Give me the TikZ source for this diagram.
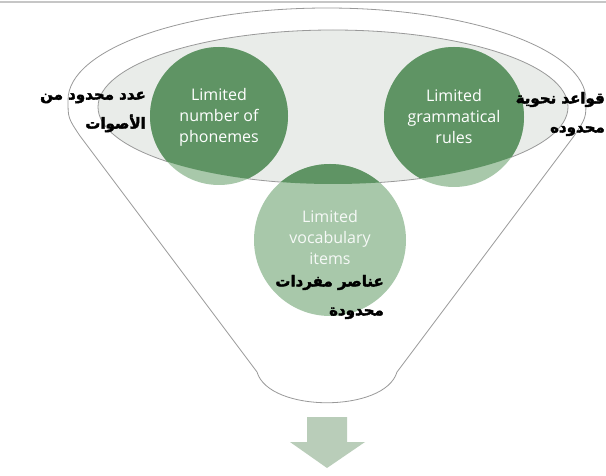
\documentclass[tikz,border=0pt]{standalone}
\usepackage{fontspec}
\setmainfont{Open Sans}
\newfontfamily\arabicfont[Script=Arabic, FakeBold=2.5]{DejaVu Sans Bold}
\TeXXeTstate=1
\usetikzlibrary{calc}
\definecolor{leafdark}{HTML}{5F9464}
\definecolor{leaflight}{HTML}{A8C8AA}
\definecolor{rimgray}{HTML}{E9ECE9}
\definecolor{arrowgreen}{HTML}{B9CDB9}
\tikzstyle{bubble}=[circle, inner sep=0pt, align=center, text=white, font=\fontsize{16}{21}\selectfont]
\tikzstyle{arlabel}=[align=right, anchor=east, inner sep=0pt, font=\arabicfont\fontsize{15}{29}\selectfont]
\tikzstyle{rim}=[draw=gray!80, line width=0.8pt]
\newcommand{\drawfunnel}[0]
{
  \draw[rim, fill=white] (68,100) arc[start angle=180, end angle=360, x radius=259, y radius=92]
    .. controls (586,118) .. (574,136) -- (397,372)
    .. controls (385,413) and (269,413) .. (257,372) -- (80,136)
    .. controls (68,118) .. cycle;
  \draw[rim, fill=rimgray] (333,107) ellipse[x radius=235, y radius=77];
}

\begin{document}
\begin{tikzpicture}[x=1pt, y=-1pt]
	\useasboundingbox[fill=white] (0,0) rectangle (606,476);
	\draw[gray!45, line width=2pt] (0,2) -- (606,2);

	\coordinate (cphon) at (219,116);
	\coordinate (cgram) at (454,117);
	\coordinate (cvoc) at (330,240);

	\drawfunnel{}

	\fill[leaflight] (cphon) circle[radius=69];
	\fill[leaflight] (cgram) circle[radius=70];
	\fill[leaflight] (cvoc) circle[radius=76];
	% darker where the circles sit inside the rim
	\begin{scope}
		\clip (333,107) ellipse[x radius=235, y radius=77];
		\fill[leafdark] (cphon) circle[radius=69];
		\fill[leafdark] (cgram) circle[radius=70];
		\fill[leafdark] (cvoc) circle[radius=76];
	\end{scope}

	\node[bubble, minimum size=138](phon) at ($(cphon)+(0,1)$) {Limited\\number of\\phonemes};
	\node[bubble, minimum size=140](gram) at (cgram) {Limited\\grammatical\\rules};
	\node[bubble, minimum size=152, text=white!90!leaflight](voc) at ($(cvoc)+(0,-2)$) {Limited\\vocabulary\\items};

	\node[arlabel](phonlbl) at (146,112) {\beginR عدد محدود من\endR\\\beginR الأصوات\endR};
	\node[arlabel](gramlbl) at (605,114) {\beginR قواعد نحوية\endR\\\beginR محدوده\endR};
	\node[arlabel](voclbl) at (384,297) {\beginR عناصر مفردات\endR\\\beginR محدودة\endR};

	\fill[arrowgreen] (307,417) -- (347,417) -- (347,442) -- (365,442) -- (327,468) -- (290,442) -- (307,442) -- cycle;
\end{tikzpicture}
\end{document}
